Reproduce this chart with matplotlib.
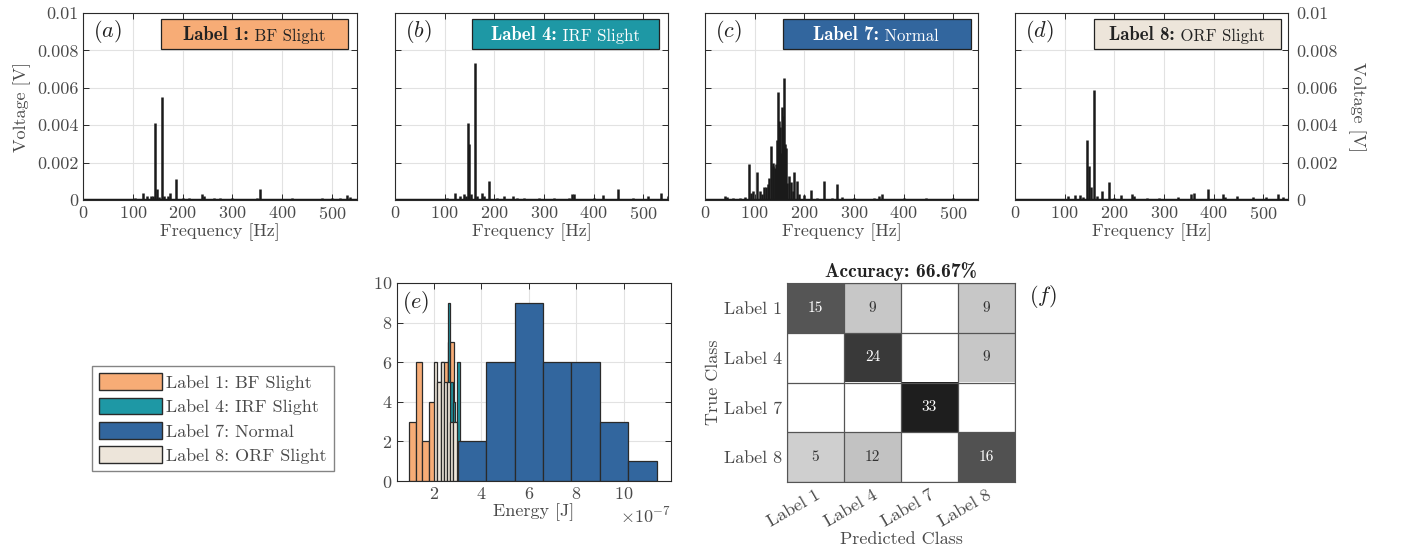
import numpy as np
import matplotlib
matplotlib.use("Agg")
import matplotlib.pyplot as plt
from matplotlib.patches import Rectangle, Patch
from matplotlib.colors import LinearSegmentedColormap, Normalize
from matplotlib.ticker import ScalarFormatter

plt.rcParams["font.family"] = ["cmr10", "DejaVu Serif"]
plt.rcParams["mathtext.fontset"] = "cm"
plt.rcParams["axes.formatter.use_mathtext"] = True

# Data
# ----
class_colors = ["#f7ac76", "#1e98a5", "#32669e", "#ede5da"]
class_names = ["BF Slight", "IRF Slight", "Normal", "ORF Slight"]
class_ids = ["1", "4", "7", "8"]
box_text_colors = ["#222222", "white", "white", "#222222"]
panel_tags = ["a", "b", "c", "d"]

freqs_a = [105, 120, 128, 136, 140, 145, 148, 152, 158, 163, 170, 175, 186, 200, 212,
           238, 242, 262, 275, 300, 350, 355, 420, 480, 500, 515, 530, 535]
amps_a = [0.0001, 0.00035, 0.0002, 0.0002, 0.0002, 0.0041, 0.0006, 0.00015, 0.0055, 0.0002,
          0.0002, 0.0004, 0.0011, 0.0001, 0.00012, 0.0003, 0.0002, 0.0001, 0.0001, 0.0001,
          0.00012, 0.0006, 0.00012, 0.0001, 0.00012, 0.0001, 0.00025, 0.00015]

freqs_b = [105, 121, 131, 139, 143, 146.6, 149, 153, 160.7, 165, 176, 180, 190, 205, 220,
           237, 245, 260, 290, 320, 350, 356, 361, 400, 420, 450, 480, 510, 535, 549]
amps_b = [0.0001, 0.00038, 0.00023, 0.0003, 0.0002, 0.0041, 0.003, 0.0003, 0.0073, 0.0002,
          0.00036, 0.0002, 0.001, 0.0001, 0.0002, 0.0002, 0.00012, 0.0001, 0.00012, 0.0001,
          0.00012, 0.0003, 0.0003, 0.0001, 0.00025, 0.00057, 0.0001, 0.0002, 0.00036, 0.0002]

freqs_c = [40, 45, 57, 70, 80, 89.4, 93, 97.5, 105, 111, 115, 119, 123, 126, 129, 133, 136,
           138, 141, 143, 145, 147, 149, 151, 153, 155, 157, 159, 161, 163, 166, 169, 173,
           177, 180, 185, 190, 200, 213, 225, 240, 255, 266, 276, 300, 340, 350, 356, 400,
           445, 500]
amps_c = [0.00023, 0.00015, 0.00012, 0.0001, 0.00015, 0.0019, 0.00035, 0.00046, 0.0015,
          0.00046, 0.0003, 0.0007, 0.0007, 0.00085, 0.0012, 0.0029, 0.0018, 0.002, 0.0017,
          0.0019, 0.0032, 0.0058, 0.0042, 0.0039, 0.0025, 0.005, 0.0045, 0.0065, 0.003,
          0.0028, 0.0009, 0.0013, 0.00094, 0.0005, 0.0015, 0.001, 0.0003, 0.00027, 0.00055,
          0.0001, 0.001, 0.0001, 0.00085, 0.00015, 0.0001, 0.0001, 0.0002, 0.0003, 0.0001,
          0.00012, 0.0001]

freqs_d = [106, 120, 131, 138, 145, 149, 153, 159, 165, 175, 189, 200, 213, 236, 240, 265,
           290, 328, 354, 360, 388, 419, 423, 447, 479, 506, 530, 539]
amps_d = [0.0002, 0.00025, 0.00025, 0.00015, 0.0032, 0.0018, 0.0007, 0.0059, 0.0002, 0.0005,
          0.00095, 0.0001, 0.00025, 0.0003, 0.0002, 0.0001, 0.0001, 0.00015, 0.0003, 0.00035,
          0.0006, 0.0003, 0.00015, 0.0002, 0.00015, 0.00015, 0.0003, 0.00015]

spectra = [(freqs_a, amps_a), (freqs_b, amps_b), (freqs_c, amps_c), (freqs_d, amps_d)]

# energy histogram, bin edges in units of 1e-7 J
edges_1 = [0.96, 1.23, 1.50, 1.77, 2.04, 2.31, 2.58, 2.85]
counts_1 = [3, 6, 2, 4, 5, 6, 7]
edges_4 = [2.59, 2.69, 2.79, 2.89, 2.99, 3.09]
counts_4 = [9, 5, 4, 3, 6]
edges_7 = [3.0, 4.2, 5.4, 6.6, 7.8, 9.0, 10.2, 11.4]
counts_7 = [2, 6, 9, 6, 6, 3, 1]
edges_8 = [2.01, 2.145, 2.28, 2.415, 2.55, 2.685, 2.82, 2.955]
counts_8 = [6, 5, 6, 5, 5, 3, 3]

# confusion matrix (rows: true, cols: predicted)
cm_labels = ["Label 1", "Label 4", "Label 7", "Label 8"]
cm_values = [[15, 9, 0, 9],
             [0, 24, 0, 9],
             [0, 0, 33, 0],
             [5, 12, 0, 16]]
accuracy = 66.67

# Style
# -----
txt_c = "#4a4a4a"
ax_c = "#2a2a2a"
fs = 13

W, H = 1407, 556
fig = plt.figure(figsize=(W / 100, H / 100), dpi=100)


def fig_rect(x0, y0, x1, y1):
    return [x0 / W, 1 - y1 / H, (x1 - x0) / W, (y1 - y0) / H]


def style_axes(ax):
    for s in ax.spines.values():
        s.set_color(ax_c)
        s.set_linewidth(0.8)
    ax.tick_params(direction="in", length=4, width=0.7, color=ax_c,
                   labelcolor=txt_c, labelsize=fs, top=True, right=True)
    ax.grid(True, color="#e2e2e2", lw=0.8)
    ax.set_axisbelow(True)


# Spectra
# -------
spec_rects = [(83, 13, 357, 200), (395, 13, 668, 200),
              (705, 13, 978, 200), (1015, 13, 1288, 200)]
box_x = [(0.285, 0.967), (0.282, 0.967), (0.286, 0.974), (0.289, 0.974)]
text_x = [0.365, 0.352, 0.396, 0.344]

for k in range(4):
    ax = fig.add_axes(fig_rect(*spec_rects[k]))
    style_axes(ax)
    fr, am = spectra[k]
    ax.vlines(fr, 0, am, color="#1a1a1a", lw=1.8)
    ax.axhline(0, color="#1a1a1a", lw=2.5)
    ax.set_xlim(0, 550)
    ax.set_ylim(0, 0.01)
    ax.set_xticks(np.arange(0, 501, 100))
    ax.set_yticks([0, 0.002, 0.004, 0.006, 0.008, 0.01])
    ax.set_yticklabels(["0", "0.002", "0.004", "0.006", "0.008", "0.01"])
    ax.set_xlabel("Frequency [Hz]", fontsize=fs, color=txt_c, labelpad=1)
    if k == 0:
        ax.set_ylabel("Voltage [V]", fontsize=fs, color=txt_c, labelpad=4)
    elif k == 3:
        ax.tick_params(axis="y", labelleft=False, labelright=True, pad=6)
        ax.yaxis.set_label_position("right")
        ax.set_ylabel("Voltage [V]", fontsize=fs, color=txt_c,
                      rotation=270, labelpad=20)
    else:
        ax.tick_params(axis="y", labelleft=False)

    ax.text(0.035, 0.9, r"$\mathit{(" + panel_tags[k] + ")}$", transform=ax.transAxes,
            fontsize=16, color="#222222", va="center", ha="left")

    x0, x1 = box_x[k]
    ax.add_patch(Rectangle((x0, 0.807), x1 - x0, 0.161, transform=ax.transAxes,
                           facecolor=class_colors[k], edgecolor="#222222",
                           lw=0.9, zorder=5))
    t1 = ax.text(text_x[k], 0.835, "Label " + class_ids[k] + ":", transform=ax.transAxes,
                 family="cmb10", fontsize=13.5, color=box_text_colors[k],
                 va="bottom", ha="left", zorder=6)
    ax.annotate(" " + class_names[k], xy=(1, 0), xycoords=t1, va="bottom", ha="left",
                fontsize=12, color=box_text_colors[k], zorder=6)

# Energy histogram
# ----------------
ax_e = fig.add_axes(fig_rect(397, 283, 671, 481))
style_axes(ax_e)
hist_sets = [(edges_1, counts_1, 0), (edges_4, counts_4, 1),
             (edges_8, counts_8, 3), (edges_7, counts_7, 2)]
for edges, counts, ci in hist_sets:
    e = np.array(edges) * 1e-7
    ax_e.bar(e[:-1], counts, width=np.diff(e), align="edge",
             color=class_colors[ci], edgecolor="#2a2a2a", lw=0.9)
ax_e.set_xlim(0.44e-7, 12e-7)
ax_e.set_ylim(0, 10)
ax_e.set_xticks(np.arange(2, 11, 2) * 1e-7)
ax_e.set_yticks(np.arange(0, 11, 2))
sf = ScalarFormatter(useMathText=True)
sf.set_powerlimits((-7, -7))
ax_e.xaxis.set_major_formatter(sf)
ax_e.xaxis.get_offset_text().set_fontsize(fs)
ax_e.xaxis.get_offset_text().set_color(txt_c)
ax_e.set_xlabel("Energy [J]", fontsize=fs, color=txt_c, labelpad=1)
ax_e.text(0.02, 0.9, r"$\mathit{(e)}$", transform=ax_e.transAxes,
          fontsize=16, color="#222222", va="center", ha="left")

handles = [Patch(facecolor=class_colors[i], edgecolor="#2a2a2a", lw=1,
                 label="Label " + class_ids[i] + ": " + class_names[i]) for i in range(4)]
fig.legend(handles=handles, loc="upper left", bbox_to_anchor=(92 / W, 1 - 366 / H),
           borderaxespad=0, fontsize=13, frameon=True, fancybox=False,
           edgecolor="#666666", handlelength=3.5, handleheight=1.05,
           handletextpad=0.2, labelspacing=0.38, borderpad=0.4, labelcolor=txt_c)

# Confusion matrix
# ----------------
ax_f = fig.add_axes(fig_rect(787, 283, 1015, 482))
cm = np.array(cm_values, dtype=float)
diag_mask = np.eye(4, dtype=bool)
cm_diag = np.ma.masked_where(~diag_mask | (cm == 0), cm)
cm_off = np.ma.masked_where(diag_mask | (cm == 0), cm)
cmap_diag = LinearSegmentedColormap.from_list("diag", ["#838383", "#1e1e1e"])
cmap_off = LinearSegmentedColormap.from_list("off", ["#d9d9d9", "#9a9a9a"])
ax_f.imshow(np.ones_like(cm), cmap="gray", vmin=0, vmax=1, aspect="auto")
ax_f.imshow(cm_diag, cmap=cmap_diag, norm=Normalize(0, 33), aspect="auto")
ax_f.imshow(cm_off, cmap=cmap_off, norm=Normalize(0, 33), aspect="auto")
for i in range(4):
    for j in range(4):
        v = cm_values[i][j]
        if v == 0:
            continue
        c = "white" if i == j else "#333333"
        ax_f.text(j, i, str(v), ha="center", va="center", fontsize=11, color=c)
ax_f.set_xticks(range(4))
ax_f.set_yticks(range(4))
ax_f.set_xticklabels(cm_labels, rotation=30, ha="right", rotation_mode="anchor")
ax_f.set_yticklabels(cm_labels)
ax_f.set_xticks(np.arange(-0.5, 4, 1), minor=True)
ax_f.set_yticks(np.arange(-0.5, 4, 1), minor=True)
ax_f.grid(which="minor", color="#555555", lw=0.9)
ax_f.tick_params(which="both", length=0, labelsize=fs, labelcolor=txt_c)
for s in ax_f.spines.values():
    s.set_color("#555555")
ax_f.set_xlabel("Predicted Class", fontsize=fs, color=txt_c, labelpad=2)
ax_f.set_ylabel("True Class", fontsize=fs, color=txt_c, labelpad=2)
ax_f.set_title("Accuracy: %.2f%%" % accuracy, family="cmb10", fontsize=14,
               color="#222222", pad=4)
ax_f.text(1.06, 0.93, r"$\mathit{(f)}$", transform=ax_f.transAxes,
          fontsize=16, color="#222222", va="center", ha="left")

fig.savefig("out.png", dpi=100)
